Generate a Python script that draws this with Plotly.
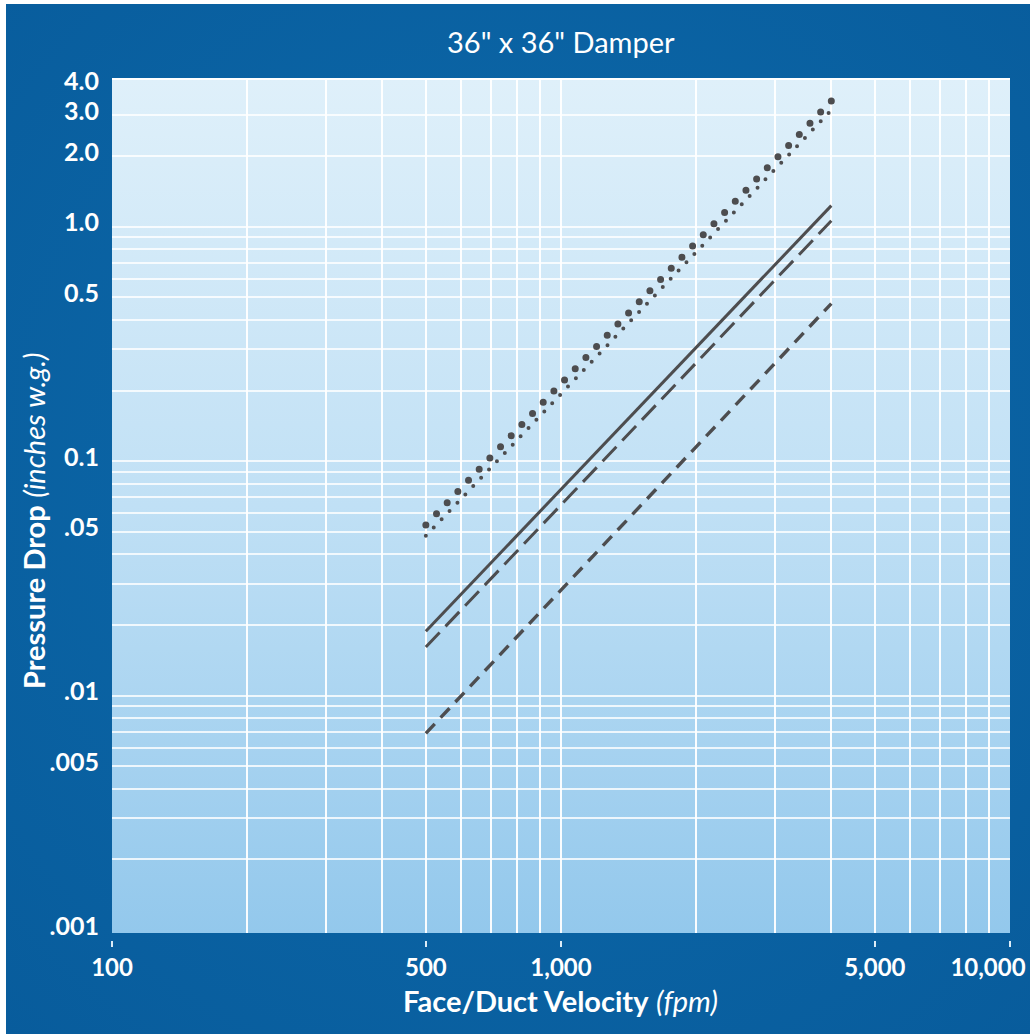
import base64
import plotly.graph_objects as go

# ---- data ----
velocity = [500, 4000]                 # fpm, start/end of every curve
curve_big_dots = [0.0534, 3.44]        # in. w.g.
curve_small_dots = [0.048, 3.14]
curve_solid = [0.0188, 1.23]
curve_long_dash = [0.0161, 1.06]
curve_short_dash = [0.0069, 0.47]

x_tick_vals = [100, 500, 1000, 5000, 10000]
x_tick_text = ["100", "500", "1,000", "5,000", ""]
x_last_tick_val = [10000]
x_last_tick_text = ["10,000"]
x_grid_vals = [200, 300, 400, 500, 600, 700, 800, 900, 1000,
               2000, 3000, 4000, 5000, 6000, 7000, 8000, 9000]
y_tick_vals = [4.0, 3.0, 2.0, 1.0, 0.5, 0.1, 0.05, 0.01, 0.005, 0.001]
y_tick_text = ["4.0", "3.0", "2.0", "1.0", "0.5", "0.1", ".05", ".01", ".005", ".001"]
y_grid_vals = [0.002, 0.003, 0.004, 0.005, 0.006, 0.007, 0.008, 0.009,
               0.01, 0.02, 0.03, 0.04, 0.05, 0.06, 0.07, 0.08, 0.09,
               0.1, 0.2, 0.3, 0.4, 0.5, 0.6, 0.7, 0.8, 0.9,
               1.0, 2.0, 3.0]

title_text = '36" x 36" Damper'
x_title = "<b>Face/Duct Velocity</b> <i>(fpm)</i>"
y_title = "<b>Pressure Drop</b> <i>(inches w.g.)</i>"

# ---- geometry ----
W, H = 1030, 1034
ML, MR, MT, MB = 112, 20, 79, 94
PW, PH = W - ML - MR, H - MT - MB
FONT = "Lato"
LINE = "#4d4d4f"
Y_RANGE = [-3.013, 0.630]
X_RANGE = [2, 4]

def px_x(p):
    return (p - ML) / PW

def px_y(p):
    return (H - MB - p) / PH

def svg_uri(svg):
    return "data:image/svg+xml;base64," + base64.b64encode(svg.encode()).decode()

frame_svg = ('<svg xmlns="http://www.w3.org/2000/svg" width="100" height="100" '
             'viewBox="0 0 100 100" preserveAspectRatio="none"><defs>'
             '<radialGradient id="g" cx="0.5" cy="0.45" r="0.75">'
             '<stop offset="0" stop-color="#0d6aab"/><stop offset="1" stop-color="#085c9c"/>'
             '</radialGradient></defs><rect width="100" height="100" fill="url(#g)"/></svg>')
plot_svg = ('<svg xmlns="http://www.w3.org/2000/svg" width="100" height="100" '
            'viewBox="0 0 100 100" preserveAspectRatio="none"><defs>'
            '<linearGradient id="p" x1="0" y1="0" x2="0" y2="1">'
            '<stop offset="0" stop-color="#dff0fa"/><stop offset="0.5" stop-color="#c0e0f5"/>'
            '<stop offset="1" stop-color="#93c8ec"/>'
            '</linearGradient></defs><rect width="100" height="100" fill="url(#p)"/></svg>')

fig = go.Figure()

def add_curve(vals, dash, width, uid):
    fig.add_trace(go.Scatter(
        x=velocity, y=vals, mode="lines", uid=uid,
        line=dict(color=LINE, width=width, dash=dash),
        showlegend=False, hoverinfo="skip"))

add_curve(curve_short_dash, "13px,8.5px", 3.4, "shortdash")
add_curve(curve_long_dash, "20px,8.5px", 3, "longdash")
add_curve(curve_solid, "solid", 3, "solid")
add_curve(curve_small_dots, "0px,11.45px", 4, "smalldots")
add_curve(curve_big_dots, "0px,15.44px", 7, "bigdots")

# empty helper traces so the label-only axes get drawn
for xa, ya in (("x", "y2"), ("x2", "y3"), ("x3", "y3")):
    fig.add_trace(go.Scatter(x=[], y=[], xaxis=xa, yaxis=ya, showlegend=False,
                             hoverinfo="skip"))

xlabel_font = dict(family=FONT, size=24, color="white", weight="bold")

fig.update_layout(
    width=W, height=H,
    margin=dict(l=ML, r=MR, t=MT, b=MB, pad=0, autoexpand=False),
    paper_bgcolor="white",
    plot_bgcolor="rgba(0,0,0,0)",
    hovermode=False,
    showlegend=False,
    xaxis=dict(type="log", range=X_RANGE, anchor="y", automargin=False,
               tickvals=x_grid_vals, showticklabels=False, ticks="",
               showgrid=True, gridcolor="rgba(255,255,255,0.95)", gridwidth=2,
               showline=False, zeroline=False),
    yaxis=dict(type="log", range=Y_RANGE, anchor="x", domain=[7 / PH, 1],
               automargin=False,
               tickvals=y_grid_vals, showticklabels=False, ticks="",
               showgrid=True, gridcolor="rgba(255,255,255,0.8)", gridwidth=1.6,
               showline=False, zeroline=False),
    yaxis2=dict(type="log", range=Y_RANGE, overlaying="y", side="left", anchor="x",
                automargin=False,
                tickmode="array", tickvals=y_tick_vals, ticktext=y_tick_text,
                ticks="", showticklabels=True, ticklabelstandoff=12,
                ticklabelshift=-4,
                showgrid=False, zeroline=False, showline=False,
                tickfont=dict(family=FONT, size=25, color="white", weight="bold")),
    xaxis2=dict(type="log", range=X_RANGE, anchor="y3", domain=[0, 1],
                automargin=False,
                tickmode="array", tickvals=x_tick_vals, ticktext=x_tick_text,
                ticks="outside", ticklen=6, tickwidth=1.5, tickcolor="#dcecf7",
                showticklabels=True,
                showgrid=False, zeroline=False, showline=False,
                tickfont=xlabel_font),
    xaxis3=dict(type="log", range=X_RANGE, anchor="y3", overlaying="x2",
                automargin=False,
                tickmode="array", tickvals=x_last_tick_val, ticktext=x_last_tick_text,
                ticks="outside", ticklen=6, tickwidth=1.5, tickcolor="rgba(0,0,0,0)",
                showticklabels=True, ticklabelshift=-22,
                showgrid=False, zeroline=False, showline=False,
                tickfont=xlabel_font),
    yaxis3=dict(domain=[0, 0.002], anchor="x2", range=[0, 1], automargin=False,
                showticklabels=False, showgrid=False, zeroline=False,
                showline=False, ticks=""),
    images=[
        dict(source=svg_uri(frame_svg), xref="paper", yref="paper",
             x=px_x(6), y=px_y(4), sizex=(W - 6) / PW, sizey=(H - 4) / PH,
             xanchor="left", yanchor="top", sizing="stretch", layer="below"),
        dict(source=svg_uri(plot_svg), xref="x domain", yref="y domain",
             x=0, y=1, sizex=1, sizey=1,
             xanchor="left", yanchor="top", sizing="stretch", layer="below"),
    ],
    shapes=[dict(type="line", xref="x domain", yref="y domain",
                 x0=0, x1=1, y0=1, y1=1, line=dict(color="white", width=2))],
    annotations=[
        dict(text=title_text, xref="paper", yref="paper", x=0.5, y=px_y(42),
             xanchor="center", yanchor="middle", showarrow=False,
             font=dict(family=FONT, size=29, color="white")),
        dict(text=x_title, xref="paper", yref="paper", x=px_x(560), y=px_y(1000),
             xanchor="center", yanchor="middle", showarrow=False,
             font=dict(family=FONT, size=29, color="white")),
        dict(text=y_title, xref="paper", yref="paper", x=px_x(33), y=px_y(521),
             xanchor="center", yanchor="middle", showarrow=False, textangle=-90,
             font=dict(family=FONT, size=29, color="white")),
    ],
)

post = """
document.body.style.margin = '0';
document.body.style.padding = '0';
var st = document.createElement('style');
st.innerHTML = 'body{margin:0 !important;} .tracebigdots path.js-line, .tracesmalldots path.js-line {stroke-linecap: round !important;}';
document.head.appendChild(st);
"""
fig.write_html("out.html", post_script=post, config={"displayModeBar": False})
